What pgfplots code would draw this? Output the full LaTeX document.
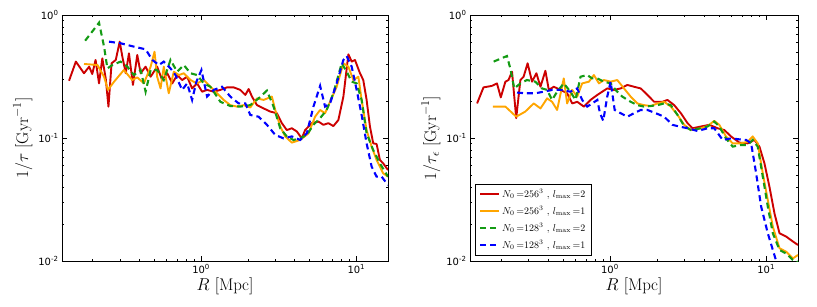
\documentclass[border=0pt]{standalone}
\usepackage{fontspec}
\usepackage{pgfplots}
\pgfplotsset{compat=1.18}
\newfontfamily\tickfont{DejaVu Sans}
\definecolor{cred}{RGB}{204,0,0}
\definecolor{corange}{RGB}{255,165,0}
\definecolor{cgreen}{RGB}{20,155,20}
\definecolor{cblue}{RGB}{0,0,255}
\tikzset{
  sred/.style={color=cred, line width=1.9pt, line join=round},
  sorange/.style={color=corange, line width=1.9pt, line join=round},
  sgreen/.style={color=cgreen, line width=2.1pt, dash pattern=on 6bp off 4bp},
  sblue/.style={color=cblue, line width=2.1pt, dash pattern=on 6bp off 4bp},
}
\begin{document}
\begin{tikzpicture}
\path[use as bounding box] (0bp,0bp) rectangle (817bp,307bp);
% ---------------- left panel
\begin{axis}[at={(62bp,46bp)}, anchor=south west, width=326bp,
    xmode=log, ymode=log,
    scale only axis,
    height=246bp,
    xmin=0.127, xmax=16,
    ymin=0.01, ymax=1,
    xtick={1,10}, xticklabels={10\textsuperscript{0},10\textsuperscript{1}},
    ytick={0.01,0.1,1}, yticklabels={10\textsuperscript{-2},10\textsuperscript{-1},10\textsuperscript{0}},
    minor xtick={0.2,0.3,0.4,0.5,0.6,0.7,0.8,0.9,2,3,4,5,6,7,8,9},
    minor ytick={0.02,0.03,0.04,0.05,0.06,0.07,0.08,0.09,0.2,0.3,0.4,0.5,0.6,0.7,0.8,0.9},
    tick label style={font=\tickfont\fontsize{10}{12}\selectfont},
    major tick length=5bp, minor tick length=2.5bp,
    tick style={black, line width=0.5pt},
    axis line style={line width=0.9pt},
    tick align=inside,
    xlabel={$R\ [\mathrm{Mpc}]$},
    label style={font=\fontsize{17}{19}\selectfont},
    xlabel style={yshift=3bp},
    ylabel style={yshift=-1bp},
  ylabel={$1/\tau\ [\mathrm{Gyr}^{-1}]$}]
\addplot[sred] table {
0.141 0.292
0.156 0.418
0.176 0.336
0.190 0.380
0.199 0.331
0.209 0.431
0.220 0.278
0.231 0.444
0.243 0.305
0.253 0.180
0.265 0.405
0.282 0.431
0.299 0.607
0.311 0.458
0.327 0.336
0.343 0.488
0.364 0.270
0.388 0.473
0.408 0.336
0.439 0.380
0.473 0.315
0.521 0.380
0.561 0.296
0.605 0.336
0.652 0.278
0.701 0.325
0.755 0.296
0.813 0.315
0.875 0.253
0.942 0.278
1.015 0.238
1.093 0.246
1.206 0.238
1.331 0.246
1.469 0.258
1.621 0.258
1.789 0.246
1.927 0.224
2.025 0.250
2.127 0.217
2.290 0.185
2.528 0.174
2.790 0.164
3.078 0.159
3.313 0.132
3.566 0.116
3.842 0.120
4.137 0.113
4.454 0.0993
4.680 0.116
5.164 0.132
5.699 0.136
6.137 0.128
6.607 0.132
7.117 0.125
7.663 0.140
8.254 0.217
8.889 0.479
9.338 0.418
9.801 0.431
10.56 0.336
11.09 0.296
11.65 0.204
12.24 0.124
12.85 0.0905
13.51 0.0894
14.19 0.0663
14.90 0.0622
16.0 0.0549
};
\addplot[sorange] table {
0.176 0.400
0.215 0.392
0.237 0.315
0.251 0.246
0.275 0.287
0.318 0.357
0.360 0.296
0.388 0.311
0.428 0.278
0.473 0.380
0.501 0.503
0.521 0.315
0.548 0.253
0.575 0.380
0.619 0.231
0.667 0.346
0.719 0.325
0.774 0.336
0.854 0.296
0.942 0.278
1.040 0.296
1.148 0.261
1.267 0.231
1.398 0.204
1.543 0.185
1.703 0.180
1.879 0.185
2.074 0.177
2.290 0.210
2.528 0.204
2.858 0.217
3.003 0.169
3.234 0.124
3.482 0.103
3.842 0.0917
4.345 0.0964
4.920 0.109
5.424 0.149
5.845 0.169
6.290 0.159
6.772 0.197
7.474 0.261
8.254 0.405
8.889 0.380
9.571 0.296
10.31 0.315
10.82 0.204
11.65 0.116
12.55 0.0851
13.51 0.0663
14.90 0.0516
16.0 0.0485
};
\addplot[sgreen] table {
0.179 0.618
0.204 0.764
0.220 0.867
0.237 0.553
0.249 0.368
0.268 0.392
0.303 0.418
0.335 0.380
0.369 0.325
0.408 0.357
0.439 0.238
0.473 0.357
0.521 0.357
0.575 0.296
0.635 0.431
0.701 0.346
0.774 0.392
0.854 0.336
0.942 0.325
1.040 0.278
1.148 0.261
1.331 0.197
1.543 0.182
1.789 0.180
2.074 0.185
2.346 0.210
2.655 0.243
2.930 0.180
3.234 0.120
3.566 0.103
3.937 0.0964
4.345 0.0993
4.797 0.106
5.294 0.128
5.845 0.145
6.442 0.169
7.117 0.231
8.054 0.405
8.670 0.346
9.338 0.287
10.05 0.278
10.82 0.204
11.65 0.109
12.85 0.0798
14.19 0.0622
16.0 0.0485
};
\addplot[sblue] table {
0.255 0.607
0.303 0.589
0.369 0.553
0.439 0.526
0.485 0.431
0.535 0.392
0.575 0.418
0.635 0.368
0.684 0.325
0.755 0.246
0.813 0.278
0.875 0.204
0.933 0.287
1.005 0.357
1.093 0.217
1.206 0.246
1.364 0.261
1.543 0.217
1.746 0.191
1.927 0.191
2.074 0.154
2.346 0.149
2.655 0.128
3.003 0.106
3.396 0.0993
3.842 0.103
4.345 0.0964
4.797 0.109
5.294 0.180
5.845 0.265
6.290 0.180
6.772 0.191
7.474 0.278
8.254 0.431
8.670 0.464
9.338 0.380
10.05 0.246
10.82 0.154
11.65 0.0905
12.55 0.0585
13.51 0.0485
14.55 0.0485
16.0 0.0415
};
\end{axis}
% ---------------- right panel
\begin{axis}[at={(470bp,46bp)}, anchor=south west, width=328bp,
    xmode=log, ymode=log,
    scale only axis,
    height=246bp,
    xmin=0.127, xmax=16,
    ymin=0.01, ymax=1,
    xtick={1,10}, xticklabels={10\textsuperscript{0},10\textsuperscript{1}},
    ytick={0.01,0.1,1}, yticklabels={10\textsuperscript{-2},10\textsuperscript{-1},10\textsuperscript{0}},
    minor xtick={0.2,0.3,0.4,0.5,0.6,0.7,0.8,0.9,2,3,4,5,6,7,8,9},
    minor ytick={0.02,0.03,0.04,0.05,0.06,0.07,0.08,0.09,0.2,0.3,0.4,0.5,0.6,0.7,0.8,0.9},
    tick label style={font=\tickfont\fontsize{10}{12}\selectfont},
    major tick length=5bp, minor tick length=2.5bp,
    tick style={black, line width=0.5pt},
    axis line style={line width=0.9pt},
    tick align=inside,
    xlabel={$R\ [\mathrm{Mpc}]$},
    label style={font=\fontsize{17}{19}\selectfont},
    xlabel style={yshift=3bp},
    ylabel style={yshift=-1bp},
  ylabel={$1/\tau_\epsilon\ [\mathrm{Gyr}^{-1}]$},
  legend cell align=left,
  legend style={at={(0.015,0.024)}, anchor=south west, draw=black,
    font=\fontsize{10}{12}\selectfont, inner xsep=4pt, inner ysep=3pt, row sep=3.5pt,
    /tikz/every even column/.append style={column sep=4pt}},
  legend image code/.code={\draw[#1] (0bp,0bp) -- (19bp,0bp);}]
\addplot[sred] table {
0.141 0.191
0.155 0.258
0.175 0.265
0.189 0.278
0.200 0.214
0.214 0.287
0.224 0.296
0.236 0.346
0.251 0.145
0.267 0.296
0.280 0.315
0.297 0.405
0.317 0.287
0.338 0.336
0.359 0.261
0.386 0.352
0.406 0.246
0.437 0.261
0.482 0.246
0.532 0.231
0.573 0.191
0.617 0.197
0.681 0.180
0.751 0.204
0.830 0.224
0.893 0.238
0.961 0.253
1.061 0.246
1.171 0.253
1.292 0.270
1.426 0.261
1.574 0.253
1.738 0.224
1.918 0.197
2.169 0.197
2.334 0.204
2.578 0.185
2.845 0.159
3.140 0.132
3.380 0.120
3.821 0.124
4.325 0.128
4.893 0.120
5.400 0.116
5.960 0.103
6.742 0.0917
7.628 0.0905
8.418 0.0964
9.062 0.0851
9.756 0.0622
10.50 0.0402
11.31 0.0244
12.18 0.0168
13.44 0.0158
14.84 0.0144
16.0 0.0135
};
\addlegendentry{$N_0\,{=}256^3$ , $l_{\max}\,{=}2$}
\addplot[sorange] table {
0.178 0.180
0.214 0.180
0.251 0.149
0.287 0.164
0.325 0.191
0.359 0.174
0.396 0.210
0.426 0.197
0.459 0.169
0.506 0.305
0.532 0.191
0.573 0.246
0.617 0.217
0.664 0.278
0.733 0.287
0.789 0.325
0.850 0.278
0.915 0.296
1.010 0.287
1.114 0.296
1.230 0.253
1.357 0.217
1.498 0.191
1.653 0.185
1.825 0.182
2.014 0.191
2.223 0.197
2.453 0.180
2.708 0.154
2.989 0.128
3.300 0.116
3.821 0.120
4.218 0.125
4.656 0.138
5.012 0.128
5.534 0.103
6.108 0.0905
6.905 0.0905
7.628 0.0933
8.204 0.103
8.834 0.0905
9.519 0.0516
10.25 0.0313
11.04 0.0190
12.18 0.0127
13.44 0.0119
14.84 0.0105
16.0 0.0112
};
\addlegendentry{$N_0\,{=}256^3$ , $l_{\max}\,{=}1$}
\addplot[sgreen] table {
0.180 0.418
0.219 0.464
0.230 0.368
0.244 0.253
0.267 0.278
0.294 0.296
0.333 0.287
0.367 0.253
0.396 0.246
0.426 0.204
0.459 0.238
0.506 0.278
0.558 0.238
0.602 0.204
0.648 0.315
0.715 0.325
0.770 0.305
0.830 0.305
0.915 0.287
1.010 0.278
1.087 0.246
1.200 0.217
1.357 0.197
1.498 0.185
1.653 0.180
1.825 0.182
2.014 0.185
2.223 0.191
2.453 0.185
2.708 0.154
2.989 0.125
3.300 0.116
3.821 0.120
4.218 0.124
4.656 0.136
5.012 0.124
5.534 0.0993
6.108 0.0851
6.905 0.0877
7.628 0.0877
8.204 0.0964
8.834 0.0851
9.519 0.0485
10.25 0.0277
11.04 0.0168
12.18 0.0123
13.44 0.0115
14.84 0.0102
16.0 0.0098
};
\addlegendentry{$N_0\,{=}128^3$ , $l_{\max}\,{=}2$}
\addplot[sblue] table {
0.254 0.234
0.287 0.231
0.333 0.231
0.377 0.238
0.426 0.246
0.482 0.246
0.558 0.238
0.617 0.253
0.664 0.204
0.715 0.180
0.770 0.191
0.830 0.204
0.863 0.159
0.906 0.138
0.961 0.217
1.010 0.287
1.072 0.169
1.171 0.159
1.292 0.149
1.426 0.159
1.574 0.169
1.738 0.169
1.965 0.159
2.223 0.149
2.512 0.128
2.773 0.124
3.140 0.120
3.639 0.114
4.218 0.120
4.656 0.120
5.269 0.0964
5.960 0.0993
6.742 0.0975
7.443 0.0964
8.014 0.0905
8.630 0.0516
9.290 0.0277
10.25 0.0168
11.04 0.0123
11.72 0.00957
};
\addlegendentry{$N_0\,{=}128^3$ , $l_{\max}\,{=}1$}
\end{axis}
\end{tikzpicture}
\end{document}
